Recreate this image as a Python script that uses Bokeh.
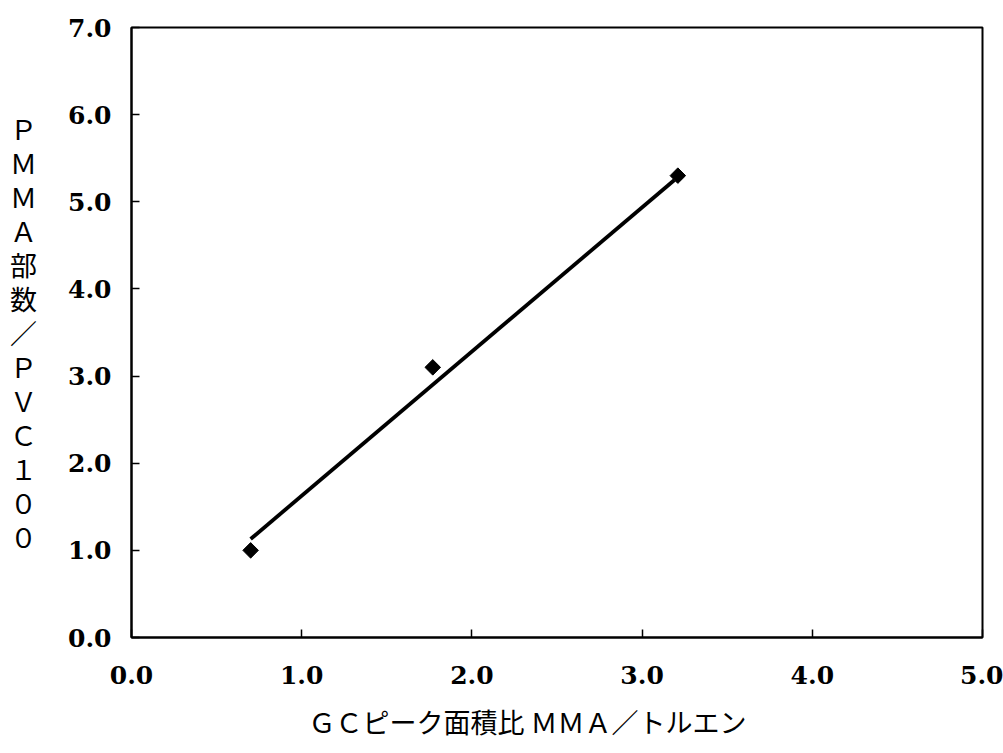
from bokeh.plotting import figure
from bokeh.models import Range1d, FixedTicker, NumeralTickFormatter, Title
from bokeh.embed import file_html
from bokeh.resources import INLINE

# Measured samples: GC peak area ratio (MMA / toluene) vs PMMA parts per 100 PVC
gc_ratio = [0.70, 1.77, 3.21]
pmma_parts = [1.00, 3.10, 5.30]

# Calibration line end points
fit_x = [0.70, 3.19]
fit_y = [1.13, 5.25]

x_ticks = [0, 1, 2, 3, 4, 5]
y_ticks = [0, 1, 2, 3, 4, 5, 6, 7]

x_title = "ＧＣピーク面積比 ＭＭＡ／トルエン"
y_title_chars = ["Ｐ", "Ｍ", "Ｍ", "Ａ", "部", "数", "／", "Ｐ", "Ｖ", "Ｃ", "１", "０", "０"]

TICK_FONT = "DejaVu Serif"
JP_FONT = "Noto Sans CJK JP"

p = figure(width=1003, height=753, output_backend="svg", toolbar_location=None,
           x_range=Range1d(0, 5), y_range=Range1d(0, 7),
           min_border_left=131, min_border_right=21, min_border_top=27, min_border_bottom=116)

p.xgrid.visible = False
p.ygrid.visible = False
p.outline_line_color = "black"
p.outline_line_width = 2
p.background_fill_color = "white"
p.border_fill_color = "white"

for ax in (p.xaxis[0], p.yaxis[0]):
    ax.axis_line_width = 2
    ax.axis_line_color = "black"
    ax.major_tick_in = 8
    ax.major_tick_out = 0
    ax.major_tick_line_width = 1.5
    ax.minor_tick_line_color = None
    ax.formatter = NumeralTickFormatter(format="0.0")
    ax.major_label_text_font = TICK_FONT
    ax.major_label_text_font_size = "25px"
    ax.major_label_text_font_style = "bold"
    ax.major_label_text_color = "black"

p.xaxis[0].ticker = FixedTicker(ticks=x_ticks)
p.yaxis[0].ticker = FixedTicker(ticks=y_ticks)
p.xaxis[0].major_label_standoff = 28
p.yaxis[0].major_label_standoff = 20

# vertical y-axis title, one character per line, kept upright
ya = p.yaxis[0]
ya.axis_label = "\n".join(y_title_chars)
ya.axis_label_orientation = "horizontal"
ya.axis_label_text_font = JP_FONT
ya.axis_label_text_font_size = "27px"
ya.axis_label_text_font_style = "normal"
ya.axis_label_text_color = "black"
ya.axis_label_text_line_height = 0.87
ya.axis_label_standoff = 28

# x-axis title sits slightly left of the frame centre
p.add_layout(Title(text=x_title, align="left", offset=177, standoff=26,
                   text_font=JP_FONT, text_font_size="27px",
                   text_font_style="normal", text_color="black"), "below")

p.line(fit_x, fit_y, line_color="black", line_width=3.8)
p.scatter(gc_ratio, pmma_parts, marker="square", angle=0.785398, size=11,
          fill_color="black", line_color="black")

open("out.html", "w").write(file_html(p, INLINE))
